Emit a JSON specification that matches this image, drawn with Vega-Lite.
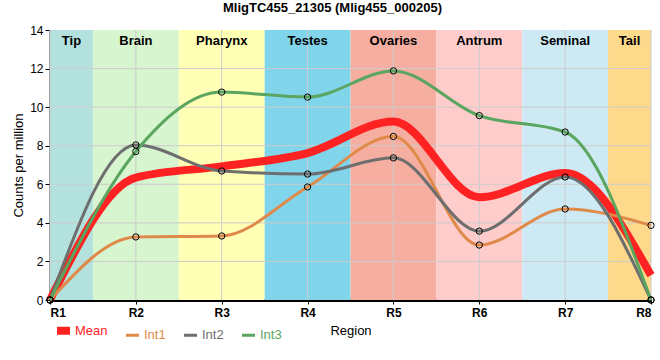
{
  "$schema": "https://vega.github.io/schema/vega-lite/v6.json",
  "width": 601,
  "height": 270,
  "autosize": {"type": "none"},
  "padding": {"left": 50, "top": 30, "right": 9, "bottom": 60},
  "config": {
    "font": "Liberation Sans",
    "view": {"stroke": null},
    "axisX": {
      "labelFontSize": 12,
      "labelFontWeight": "bold",
      "labelColor": "black",
      "labelPadding": 3,
      "domainColor": "black",
      "domainWidth": 3,
      "tickColor": "black",
      "tickSize": 4,
      "grid": false,
      "titleFontSize": 13,
      "titleFontWeight": "normal",
      "titleColor": "black",
      "titlePadding": 6
    },
    "axisY": {
      "labelFontSize": 12,
      "labelColor": "black",
      "labelOverlap": false,
      "domainColor": "black",
      "domainWidth": 2,
      "tickColor": "black",
      "tickSize": 5,
      "grid": false,
      "titleFontSize": 13,
      "titleFontWeight": "normal",
      "titleColor": "black",
      "titlePadding": 4
    }
  },
  "title": {
    "text": "MligTC455_21305 (Mlig455_000205)",
    "fontSize": 13,
    "fontWeight": "bold",
    "color": "black",
    "offset": 9,
    "dx": -18
  },
  "datasets": {
    "expr": [
      {"region": 1, "series": "Mean", "cpm": 0},
      {"region": 2, "series": "Mean", "cpm": 6.35},
      {"region": 3, "series": "Mean", "cpm": 6.93},
      {"region": 4, "series": "Mean", "cpm": 7.62},
      {"region": 5, "series": "Mean", "cpm": 9.25},
      {"region": 6, "series": "Mean", "cpm": 5.33},
      {"region": 7, "series": "Mean", "cpm": 6.58},
      {"region": 8, "series": "Mean", "cpm": 1.28},
      {"region": 1, "series": "Int1", "cpm": 0},
      {"region": 2, "series": "Int1", "cpm": 3.27},
      {"region": 3, "series": "Int1", "cpm": 3.32},
      {"region": 4, "series": "Int1", "cpm": 5.86},
      {"region": 5, "series": "Int1", "cpm": 8.48},
      {"region": 6, "series": "Int1", "cpm": 2.85},
      {"region": 7, "series": "Int1", "cpm": 4.72},
      {"region": 8, "series": "Int1", "cpm": 3.87},
      {"region": 1, "series": "Int2", "cpm": 0},
      {"region": 2, "series": "Int2", "cpm": 8.04},
      {"region": 3, "series": "Int2", "cpm": 6.69},
      {"region": 4, "series": "Int2", "cpm": 6.53},
      {"region": 5, "series": "Int2", "cpm": 7.37},
      {"region": 6, "series": "Int2", "cpm": 3.57},
      {"region": 7, "series": "Int2", "cpm": 6.38},
      {"region": 8, "series": "Int2", "cpm": 0},
      {"region": 1, "series": "Int3", "cpm": 0},
      {"region": 2, "series": "Int3", "cpm": 7.7},
      {"region": 3, "series": "Int3", "cpm": 10.78},
      {"region": 4, "series": "Int3", "cpm": 10.52},
      {"region": 5, "series": "Int3", "cpm": 11.88},
      {"region": 6, "series": "Int3", "cpm": 9.56},
      {"region": 7, "series": "Int3", "cpm": 8.71},
      {"region": 8, "series": "Int3", "cpm": 0}
    ],
    "bands": [
      {"tissue": "Tip", "from": 1, "to": 1.5},
      {"tissue": "Brain", "from": 1.5, "to": 2.5},
      {"tissue": "Pharynx", "from": 2.5, "to": 3.5},
      {"tissue": "Testes", "from": 3.5, "to": 4.5},
      {"tissue": "Ovaries", "from": 4.5, "to": 5.5},
      {"tissue": "Antrum", "from": 5.5, "to": 6.5},
      {"tissue": "Seminal", "from": 6.5, "to": 7.5},
      {"tissue": "Tail", "from": 7.5, "to": 8}
    ],
    "ygrid": [{"v": 2}, {"v": 4}, {"v": 6}, {"v": 8}, {"v": 10}, {"v": 12}]
  },
  "layer": [
    {
      "data": {"name": "bands"},
      "mark": {"type": "rect"},
      "encoding": {
        "x": {"field": "from", "type": "quantitative", "title": "Region", "scale": {"domain": [1, 8], "nice": false, "zero": false},
              "axis": {"values": [1, 2, 3, 4, 5, 6, 7, 8], "labelExpr": "'R' + datum.value"}},
        "x2": {"field": "to"},
        "fill": {
          "field": "tissue",
          "type": "nominal",
          "legend": null,
          "scale": {
            "domain": ["Tip", "Brain", "Pharynx", "Testes", "Ovaries", "Antrum", "Seminal", "Tail"],
            "range": ["#b3e2de", "#d7f5cf", "#ffffb5", "#80d5ea", "#f5aea0", "#ffcccc", "#cdeaf4", "#fdd98b"]
          }
        }
      }
    },
    {
      "data": {"name": "ygrid"},
      "mark": {"type": "rule", "color": "#cccccc", "strokeWidth": 1},
      "encoding": {
        "y": {"field": "v", "type": "quantitative", "title": "Counts per million", "scale": {"domain": [0, 14], "nice": false},
              "axis": {"values": [0, 2, 4, 6, 8, 10, 12, 14]}}
      }
    },
    {
      "data": {"name": "expr"},
      "transform": [{"filter": "datum.series === 'Int1'"}],
      "mark": {"type": "rule", "color": "#cccccc", "strokeWidth": 1},
      "encoding": {
        "x": {"field": "region", "type": "quantitative", "title": "Region",
              "axis": {"values": [1, 2, 3, 4, 5, 6, 7, 8], "labelExpr": "'R' + datum.value"}}
      }
    },
    {
      "mark": {"type": "rule", "color": "black", "strokeWidth": 1.5},
      "encoding": {"x": {"datum": 8, "type": "quantitative", "title": "Region",
              "axis": {"values": [1, 2, 3, 4, 5, 6, 7, 8], "labelExpr": "'R' + datum.value"}}}
    },
    {
      "data": {"name": "bands"},
      "transform": [{"fold": ["from", "to"], "as": ["edge", "pos"]}],
      "mark": {"type": "text", "fontSize": 13, "fontWeight": "bold", "color": "black", "baseline": "top", "dy": 5},
      "encoding": {
        "x": {"aggregate": "mean", "field": "pos", "type": "quantitative", "title": "Region",
              "axis": {"values": [1, 2, 3, 4, 5, 6, 7, 8], "labelExpr": "'R' + datum.value"}},
        "y": {"datum": 14, "type": "quantitative", "title": "Counts per million",
              "axis": {"values": [0, 2, 4, 6, 8, 10, 12, 14]}},
        "text": {"field": "tissue", "type": "nominal"}
      }
    },
    {
      "data": {"name": "expr"},
      "transform": [{"filter": "datum.series === 'Mean'"}],
      "mark": {"type": "line", "interpolate": "monotone", "strokeWidth": 8},
      "encoding": {
        "x": {"field": "region", "type": "quantitative", "title": "Region",
              "axis": {"values": [1, 2, 3, 4, 5, 6, 7, 8], "labelExpr": "'R' + datum.value"}},
        "y": {"field": "cpm", "type": "quantitative", "title": "Counts per million",
              "axis": {"values": [0, 2, 4, 6, 8, 10, 12, 14]}},
        "color": {
          "field": "series",
          "type": "nominal",
          "scale": {"domain": ["Mean", "Int1", "Int2", "Int3"], "range": ["#ff2222", "#e08a4a", "#6e6e6e", "#5aa55f"]},
          "legend": {
            "orient": "none",
            "legendX": 7,
            "legendY": 294,
            "direction": "horizontal",
            "columns": 4,
            "title": null,
            "symbolType": "stroke",
            "symbolSize": 169,
            "symbolStrokeWidth": 3,
            "labelFontSize": 13,
            "labelOffset": 5,
            "labelBaseline": "middle",
            "columnPadding": 12,
            "encode": {
              "labels": {"update": {"fill": {"scale": "color", "field": "value"}}},
              "symbols": {"update": {"strokeWidth": {"signal": "datum.value === 'Mean' ? 8 : 3"}, "strokeCap": {"value": "butt"}}}
            }
          }
        }
      }
    },
    {
      "data": {"name": "expr"},
      "transform": [{"filter": "datum.series !== 'Mean'"}],
      "mark": {"type": "line", "interpolate": "monotone", "strokeWidth": 3},
      "encoding": {
        "x": {"field": "region", "type": "quantitative", "title": "Region",
              "axis": {"values": [1, 2, 3, 4, 5, 6, 7, 8], "labelExpr": "'R' + datum.value"}},
        "y": {"field": "cpm", "type": "quantitative", "title": "Counts per million",
              "axis": {"values": [0, 2, 4, 6, 8, 10, 12, 14]}},
        "color": {"field": "series", "type": "nominal"}
      }
    },
    {
      "data": {"name": "expr"},
      "transform": [{"filter": "datum.series !== 'Mean'"}],
      "mark": {"type": "point", "shape": "circle", "filled": false, "color": "black", "strokeWidth": 1, "size": 40, "opacity": 1},
      "encoding": {
        "x": {"field": "region", "type": "quantitative", "title": "Region",
              "axis": {"values": [1, 2, 3, 4, 5, 6, 7, 8], "labelExpr": "'R' + datum.value"}},
        "y": {"field": "cpm", "type": "quantitative", "title": "Counts per million",
              "axis": {"values": [0, 2, 4, 6, 8, 10, 12, 14]}}
      }
    }
  ]
}
